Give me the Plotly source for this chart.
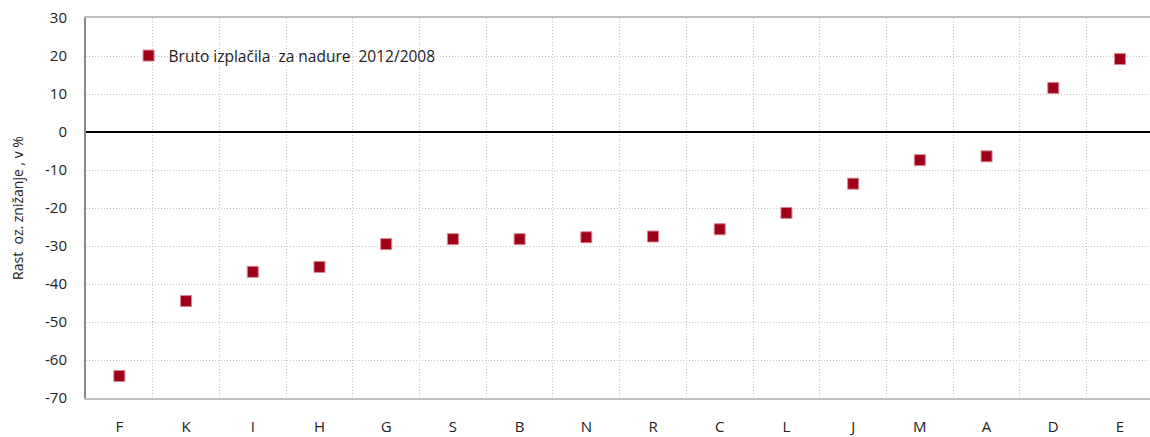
import plotly.graph_objects as go

# Sectors (sorted by change) and change in overtime pay 2012/2008, in %
sectors = ["F", "K", "I", "H", "G", "S", "B", "N", "R", "C", "L", "J", "M", "A", "D", "E"]
change = [-64.2, -44.5, -36.8, -35.5, -29.5, -28.2, -28.2, -27.7, -27.5, -25.6,
          -21.3, -13.6, -7.4, -6.4, 11.6, 19.2]

y_ticks = [30, 20, 10, 0, -10, -20, -30, -40, -50, -60, -70]
y_labels = [str(v) for v in y_ticks]  # plain hyphen like the original

fig = go.Figure()

fig.add_trace(
    go.Scatter(
        x=sectors, y=change,
        mode="markers",
        name="Bruto izplačila  za nadure  2012/2008",
        marker=dict(symbol="square", size=11, color="#9E0018",
                    line=dict(color="#D8868F", width=1)),
    )
)

fig.update_layout(
    width=1150, height=437,
    margin=dict(l=86, r=0, t=18, b=39),
    plot_bgcolor="white",
    paper_bgcolor="white",
    font=dict(family="Open Sans", size=15, color="#222222"),
    showlegend=True,
    legend=dict(x=0.04, y=0.9, xanchor="left", yanchor="middle",
                bgcolor="rgba(0,0,0,0)", font=dict(size=15.5),
                itemwidth=30),
)

# last column runs slightly past the right edge in the original
fig.update_xaxes(
    type="category",
    range=[-0.5, 15.45],
    tickson="boundaries",
    ticks="",
    showgrid=True, gridcolor="#c4c4c4", griddash="1px,2px", gridwidth=1,
    showline=True, linecolor="#c0c0c0", linewidth=2, mirror=True,
    ticklabelstandoff=14,
    tickfont=dict(size=15),
    automargin=False,
)

fig.update_yaxes(
    range=[-70, 30],
    tickvals=y_ticks,
    ticktext=y_labels,
    ticks="",
    showgrid=True, gridcolor="#c4c4c4", griddash="1px,2px", gridwidth=1,
    zeroline=True, zerolinecolor="black", zerolinewidth=2,
    showline=True, linecolor="#8a8a8a", linewidth=2,
    ticklabelstandoff=14,
    tickfont=dict(size=15),
    title=dict(text="Rast  oz. znižanje , v %", font=dict(size=14), standoff=18),
    automargin=False,
)

# drop the default page margin so the figure sits at the window corner
fig.write_html("out.html", config={"displayModeBar": False},
               post_script="document.body.style.margin='0';")
